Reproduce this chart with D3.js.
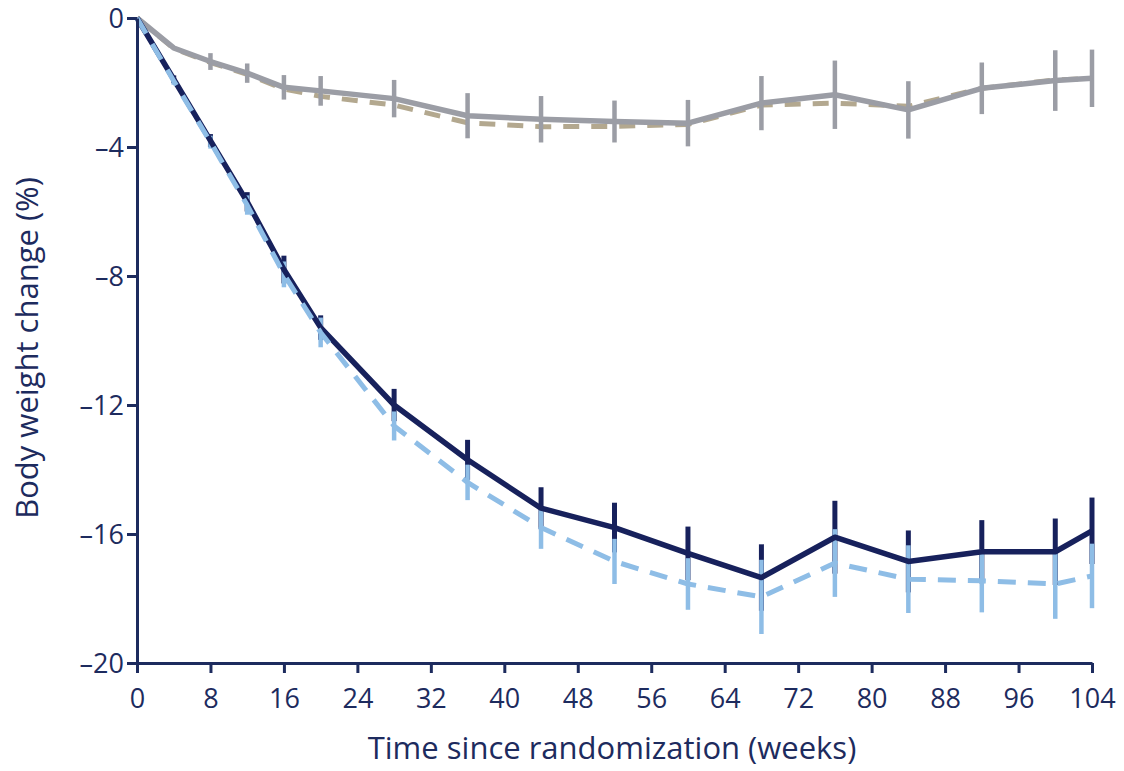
<!DOCTYPE html>
<html>
<head>
<meta charset="utf-8">
<script src="https://cdn.jsdelivr.net/npm/d3@7"></script>
<style>
  body { margin: 0; background: #fff; }
  svg { display: block; font-family: "Open Sans", "Noto Sans", sans-serif; }
</style>
</head>
<body>
<div id="chart"></div>
<script>
const weeks = [0, 4, 8, 12, 16, 20, 28, 36, 44, 52, 60, 68, 76, 84, 92, 100, 104];

// active arm, solid navy
const navyVals = [0, -1.9, -3.8, -5.7, -7.8, -9.6, -12.0, -13.7, -15.2, -15.8, -16.6, -17.35, -16.1, -16.85, -16.55, -16.55, -15.9];
const navyErr  = [0, 0.12, 0.2, 0.3, 0.43, 0.38, 0.5, 0.62, 0.65, 0.77, 0.83, 1.03, 1.13, 0.96, 0.98, 1.03, 1.03];

// active arm, dashed light blue
const lightVals = [0, -1.95, -3.85, -5.8, -7.95, -9.75, -12.65, -14.4, -15.8, -16.85, -17.55, -17.95, -16.9, -17.4, -17.45, -17.55, -17.3];
const lightErr  = [0, 0.12, 0.2, 0.3, 0.4, 0.46, 0.45, 0.55, 0.66, 0.7, 0.8, 1.15, 1.05, 1.05, 0.98, 1.08, 1.0];

// placebo, solid gray
const grayVals = [0, -0.93, -1.35, -1.71, -2.15, -2.26, -2.5, -3.03, -3.14, -3.21, -3.26, -2.64, -2.38, -2.85, -2.18, -1.94, -1.87];
const grayErr  = [0, 0, 0.26, 0.3, 0.38, 0.46, 0.58, 0.7, 0.72, 0.65, 0.72, 0.84, 1.06, 0.89, 0.8, 0.94, 0.89];

// placebo, dashed tan
const tanVals = [0, -0.95, -1.38, -1.75, -2.2, -2.43, -2.7, -3.25, -3.37, -3.36, -3.3, -2.7, -2.64, -2.74, -2.18, -1.92, -1.87];

const xTicks = d3.range(0, 105, 8);
const yTicks = [0, -4, -8, -12, -16, -20];

const W = 1124, H = 771;
const navy = "#17215c", lightBlue = "#8ebde6", gray = "#9b9da5", tan = "#b3a88f", ink = "#1d2b5e";

const svg = d3.select("#chart").append("svg")
  .attr("width", W).attr("height", H)
  .attr("viewBox", "0 0 " + W + " " + H);

const x = d3.scaleLinear().domain([0, 104]).range([137, 1092]);
const y = d3.scaleLinear().domain([0, -20]).range([18, 663]);

const pts = (vals, errs) => weeks.map((w, i) => ({ w: w, v: vals[i], e: errs ? errs[i] : 0 }));
const line = d3.line().x(d => x(d.w)).y(d => y(d.v));

function bars(data, color, width) {
  svg.append("g").selectAll("line")
    .data(data.filter(d => d.e > 0))
    .enter().append("line")
    .attr("x1", d => x(d.w)).attr("x2", d => x(d.w))
    .attr("y1", d => y(d.v + d.e)).attr("y2", d => y(d.v - d.e))
    .attr("stroke", color).attr("stroke-width", width);
}

function path(data, color, width, dash) {
  const p = svg.append("path").datum(data)
    .attr("d", line)
    .attr("fill", "none")
    .attr("stroke", color)
    .attr("stroke-width", width)
    .attr("stroke-linejoin", "round");
  if (dash) p.attr("stroke-dasharray", dash);
}

// placebo
path(pts(tanVals), tan, 5, "16,12");
bars(pts(grayVals, grayErr), gray, 4.5);
path(pts(grayVals), gray, 5.5);

// active
bars(pts(navyVals, navyErr), navy, 5);
bars(pts(lightVals, lightErr), lightBlue, 4.5);
path(pts(navyVals), navy, 5.5);
path(pts(lightVals), lightBlue, 5, "18,12");

// axes
const yAxis = svg.append("g").attr("transform", "translate(137,0)")
  .call(d3.axisLeft(y).tickValues(yTicks).tickSize(10).tickSizeOuter(0)
    .tickFormat(d => d === 0 ? "0" : "\u2013" + Math.abs(d)));
const xAxis = svg.append("g").attr("transform", "translate(0,663)")
  .call(d3.axisBottom(x).tickValues(xTicks).tickSize(10).tickSizeOuter(0));

[yAxis, xAxis].forEach(a => {
  a.select(".domain").attr("stroke", ink).attr("stroke-width", 3);
  a.selectAll(".tick line").attr("stroke", ink).attr("stroke-width", 3);
  a.selectAll(".tick text").attr("fill", ink)
    .style("font-size", "27px").style("font-family", "'Open Sans', sans-serif");
});
yAxis.selectAll(".tick text").attr("x", -13).attr("dy", "0.36em");
xAxis.selectAll(".tick text").attr("y", 26).attr("dy", "0.72em");

svg.append("text")
  .attr("x", 612).attr("y", 759)
  .attr("text-anchor", "middle")
  .attr("fill", ink)
  .style("font-size", "31px")
  .text("Time since randomization (weeks)");

svg.append("text")
  .attr("transform", "translate(38,348) rotate(-90)")
  .attr("text-anchor", "middle")
  .attr("fill", ink)
  .style("font-size", "31px")
  .text("Body weight change (%)");
</script>
</body>
</html>
